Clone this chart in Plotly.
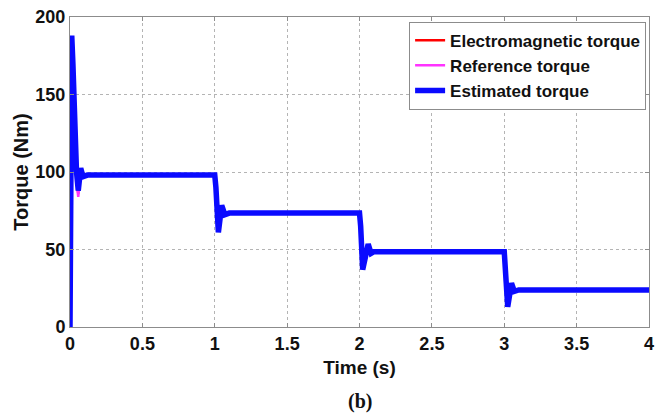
import plotly.graph_objects as go

# Estimated torque (blue) key points
t_est = [0, 0.004, 0.012, 0.02, 0.03, 0.045, 0.057, 0.074, 0.09, 0.12,
         1.0, 1.008, 1.025, 1.048, 1.07, 1.1,
         2.0, 2.008, 2.022, 2.06, 2.08, 2.1,
         3.0, 3.008, 3.024, 3.05, 3.07, 3.1, 4.0]
y_est = [0, 120, 188, 170, 135, 100, 88, 102.5, 97, 98,
         98, 90, 61, 78.5, 72.5, 73.5,
         73.5, 65, 37, 53.5, 47.5, 48.6,
         48.6, 40, 13, 28.2, 23, 23.9, 23.9]

# Reference torque (magenta) start transient
t_ref = [0, 0.004, 0.012, 0.02, 0.03, 0.045, 0.057, 0.074, 0.09]
y_ref = [0, 110, 180, 165, 128, 95, 84, 100, 97]

# Electromagnetic torque (red) - hidden under the estimate
t_em = [0, 0.004, 0.012, 0.02, 0.03, 0.045, 0.057, 0.074, 0.09]
y_em = [0, 115, 185, 168, 132, 98, 86, 101, 97]

x_ticks = [0, 0.5, 1, 1.5, 2, 2.5, 3, 3.5, 4]
x_tick_text = ["0", "0.5", "1", "1.5", "2", "2.5", "3", "3.5", "4"]
y_ticks = [0, 50, 100, 150, 200]

FONT = "Liberation Sans, Arial, sans-serif"

fig = go.Figure()
fig.add_trace(go.Scatter(x=t_em, y=y_em, mode="lines", name="Electromagnetic torque",
                         line=dict(color="#ff0000", width=2.5)))
fig.add_trace(go.Scatter(x=t_ref, y=y_ref, mode="lines", name="Reference torque",
                         line=dict(color="#ff33ff", width=2.5)))
fig.add_trace(go.Scatter(x=t_est, y=y_est, mode="lines", name="Estimated torque",
                         line=dict(color="#0a0aff", width=5.5)))

axis_common = dict(
    showline=True, linecolor="#8c8c8c", linewidth=1, mirror="ticks",
    showgrid=True, gridcolor="#b4b4b4", griddash="dot", gridwidth=1,
    ticks="inside", ticklen=4, tickcolor="#8c8c8c", zeroline=False,
    automargin=False,
    tickfont=dict(family=FONT, size=18, color="#111", weight="bold"),
)

fig.update_layout(
    width=666, height=417,
    margin=dict(l=70, r=17, t=17, b=90),
    plot_bgcolor="white", paper_bgcolor="white",
    showlegend=True,
    legend=dict(x=0.995, y=0.985, xanchor="right", yanchor="top",
                bgcolor="white", bordercolor="#8c8c8c", borderwidth=1,
                font=dict(family=FONT, size=17, color="#111", weight="bold"),
                tracegroupgap=0, itemwidth=30),
    xaxis=dict(range=[0, 4], tickvals=x_ticks, ticktext=x_tick_text,
               title=dict(text="Time (s)", standoff=8,
                          font=dict(family=FONT, size=19, color="#111", weight="bold")),
               **axis_common),
    yaxis=dict(range=[0, 200], tickvals=y_ticks,
               title=dict(text="Torque (Nm)", standoff=1,
                          font=dict(family=FONT, size=20, color="#111", weight="bold")),
               **axis_common),
    annotations=[dict(text="<b>(b)</b>", xref="paper", yref="paper", x=0.5, y=-0.24,
                      xanchor="center", yanchor="middle", showarrow=False,
                      font=dict(family="Liberation Serif, Times New Roman, serif", size=20, color="#111"))],
)

fig.write_html("out.html", config={"displayModeBar": False},
               post_script="document.body.style.margin='0';document.body.style.overflow='hidden';")
